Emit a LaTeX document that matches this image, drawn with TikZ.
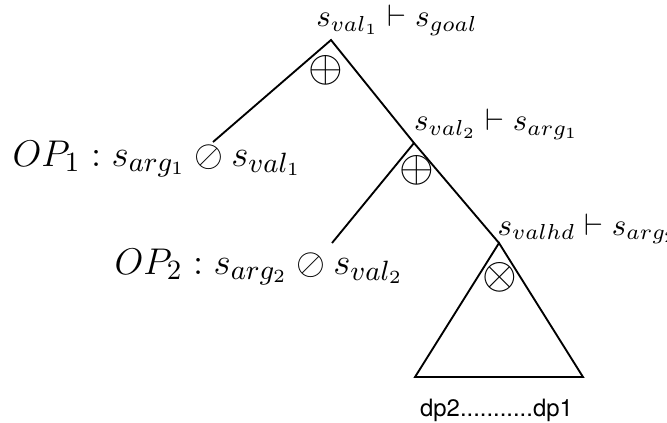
\documentclass[tikz,border=0pt]{standalone}
\usepackage{amsmath}
\usepackage{amssymb}
\usepackage{fontspec}
\newfontfamily\helv{TeX Gyre Heros}
\usetikzlibrary{positioning}

\begin{document}
\begin{tikzpicture}[x=0.01134cm,y=-0.01134cm,
    branch/.style={line width=0.6pt},
    oper/.style={inner sep=0pt,font=\fontsize{14}{17}\selectfont},
    seq/.style={inner sep=0pt,anchor=base},
    opseq/.style={inner sep=0pt,anchor=base west,font=\fontsize{12.7}{15}\selectfont}]
\useasboundingbox (0,0) rectangle (667,422);
    % tree points
    \coordinate (root) at (331,40);
    \coordinate (n1) at (414,143);
    \coordinate (n2) at (499,243);
    \coordinate (leaf1) at (213,142);
    \coordinate (leaf2) at (332,243);
    \coordinate (bl) at (415,377);
    \coordinate (br) at (583,377);
    % sequents
    \node[seq] (goal) at (397,26.5) {$s_{val_1}\vdash s_{goal}$};
    \node[seq] (arg1) at (496.5,130.7) {$s_{val_2}\vdash s_{arg_1}$};
    \node[seq,anchor=base west] (arg2) at (497,235) {$s_{valhd}\vdash s_{arg_2}$};
    \node[opseq] (op1) at (12,166) {$OP_1: s_{arg_1}\oslash s_{val_1}$};
    \node[opseq] (op2) at (114,274) {$OP_2: s_{arg_2}\oslash s_{val_2}$};
    % operators
    \node[oper] (plus1) at (325.5,70.5) {$\oplus$};
    \node[oper] (plus2) at (416.5,170.5) {$\oplus$};
    \node[oper] (times) at (499.5,277) {$\otimes$};
    \node[anchor=base,inner sep=0pt,font=\helv\fontsize{7.7}{9}\selectfont] (dp) at (496.5,416.7) {dp2...........dp1};
    \draw[branch] (leaf1)--(root)--(n1)--(n2);
    \draw[branch] (n1)--(leaf2);
    \draw[branch] (n2)--(bl)--(br)--cycle;
\end{tikzpicture}
\end{document}
